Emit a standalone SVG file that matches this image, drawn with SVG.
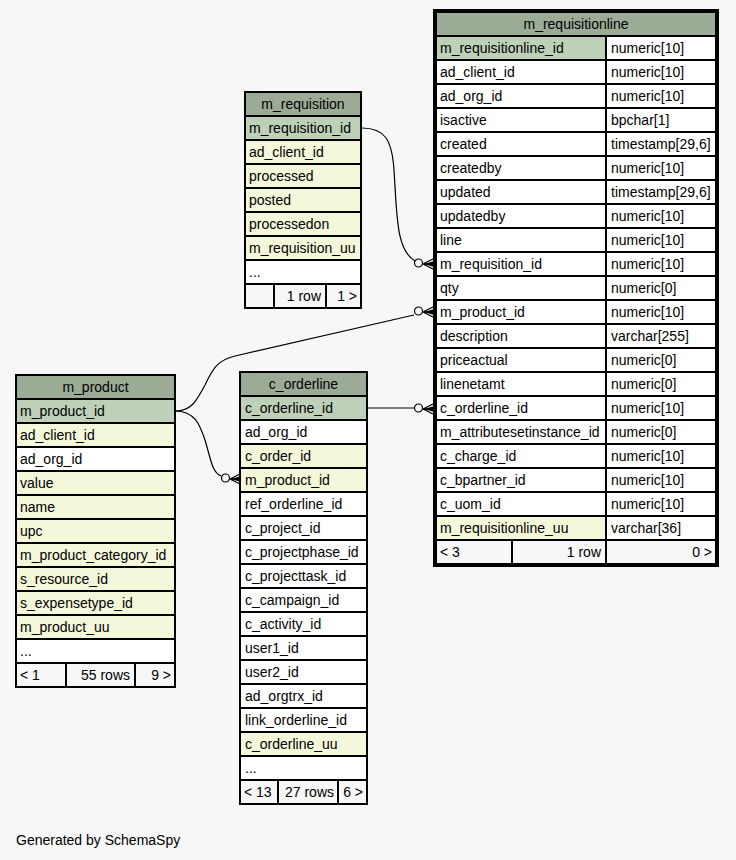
<svg xmlns="http://www.w3.org/2000/svg" xmlns:xlink="http://www.w3.org/1999/xlink" width="736" height="860" viewBox="0 0 736 860">
<style>
text{font-family:"Liberation Sans",Arial,sans-serif;font-size:14px;fill:#000}
.c{text-anchor:middle}
.r{text-anchor:end}
g rect{stroke:#000;stroke-width:1}
.hd{fill:#9bab96}
.pk{fill:#bed1b8}
.ix{fill:#f4f7da}
.pl{fill:#ffffff}
.ft{fill:#f7f7f7}
.ob{fill:none}
.edge path{fill:none;stroke:#000;stroke-width:1.2}
</style>
<defs>
<g id="crowodot">
<circle cx="-14.5" cy="-1" r="4" fill="none" stroke="#000" stroke-width="1.2"/>
<path d="M-10,0 L0,-5 M-10,0 L0,0 M-10,0 L0,5 M-7,0 L0,-2 L0,2 Z" fill="#000" stroke="#000" stroke-width="1.3"/>
</g>
</defs>
<rect x="0" y="0" width="736" height="860" style="fill:#f7f7f7;stroke:none"/>

<g class="edge" id="connectors">
<path d="M362,128 C385,128 392,140 394,170 C397,215 396,250 415,261"/>
<use xlink:href="#crowodot" x="433" y="264"/>
<path d="M175,411 C192,411 197,400 205,385 C213,368 218,360 235,356 L414,315"/>
<use xlink:href="#crowodot" x="433" y="312"/>
<path d="M175,411 C195,411 200,425 205,440 C211,460 212,472 221,476"/>
<use xlink:href="#crowodot" x="240" y="479"/>
<path d="M367,408 L414,408"/>
<use xlink:href="#crowodot" x="433" y="409"/>
</g>

<g id="m_requisitionline">
<rect class="hd" x="436.5" y="12.5" width="279" height="23"/>
<text class="c" x="576" y="29">m_requisitionline</text>
<rect class="pk" x="436.5" y="36.5" width="169" height="23"/><rect class="pl" x="606.5" y="36.5" width="109" height="23"/>
<text x="440" y="53">m_requisitionline_id</text><text x="611" y="53">numeric[10]</text>
<rect class="pl" x="436.5" y="60.5" width="169" height="23"/><rect class="pl" x="606.5" y="60.5" width="109" height="23"/>
<text x="440" y="77">ad_client_id</text><text x="611" y="77">numeric[10]</text>
<rect class="pl" x="436.5" y="84.5" width="169" height="23"/><rect class="pl" x="606.5" y="84.5" width="109" height="23"/>
<text x="440" y="101">ad_org_id</text><text x="611" y="101">numeric[10]</text>
<rect class="pl" x="436.5" y="108.5" width="169" height="23"/><rect class="pl" x="606.5" y="108.5" width="109" height="23"/>
<text x="440" y="125">isactive</text><text x="611" y="125">bpchar[1]</text>
<rect class="pl" x="436.5" y="132.5" width="169" height="23"/><rect class="pl" x="606.5" y="132.5" width="109" height="23"/>
<text x="440" y="149">created</text><text x="611" y="149">timestamp[29,6]</text>
<rect class="pl" x="436.5" y="156.5" width="169" height="23"/><rect class="pl" x="606.5" y="156.5" width="109" height="23"/>
<text x="440" y="173">createdby</text><text x="611" y="173">numeric[10]</text>
<rect class="pl" x="436.5" y="180.5" width="169" height="23"/><rect class="pl" x="606.5" y="180.5" width="109" height="23"/>
<text x="440" y="197">updated</text><text x="611" y="197">timestamp[29,6]</text>
<rect class="pl" x="436.5" y="204.5" width="169" height="23"/><rect class="pl" x="606.5" y="204.5" width="109" height="23"/>
<text x="440" y="221">updatedby</text><text x="611" y="221">numeric[10]</text>
<rect class="pl" x="436.5" y="228.5" width="169" height="23"/><rect class="pl" x="606.5" y="228.5" width="109" height="23"/>
<text x="440" y="245">line</text><text x="611" y="245">numeric[10]</text>
<rect class="pl" x="436.5" y="252.5" width="169" height="23"/><rect class="pl" x="606.5" y="252.5" width="109" height="23"/>
<text x="440" y="269">m_requisition_id</text><text x="611" y="269">numeric[10]</text>
<rect class="pl" x="436.5" y="276.5" width="169" height="23"/><rect class="pl" x="606.5" y="276.5" width="109" height="23"/>
<text x="440" y="293">qty</text><text x="611" y="293">numeric[0]</text>
<rect class="pl" x="436.5" y="300.5" width="169" height="23"/><rect class="pl" x="606.5" y="300.5" width="109" height="23"/>
<text x="440" y="317">m_product_id</text><text x="611" y="317">numeric[10]</text>
<rect class="pl" x="436.5" y="324.5" width="169" height="23"/><rect class="pl" x="606.5" y="324.5" width="109" height="23"/>
<text x="440" y="341">description</text><text x="611" y="341">varchar[255]</text>
<rect class="pl" x="436.5" y="348.5" width="169" height="23"/><rect class="pl" x="606.5" y="348.5" width="109" height="23"/>
<text x="440" y="365">priceactual</text><text x="611" y="365">numeric[0]</text>
<rect class="pl" x="436.5" y="372.5" width="169" height="23"/><rect class="pl" x="606.5" y="372.5" width="109" height="23"/>
<text x="440" y="389">linenetamt</text><text x="611" y="389">numeric[0]</text>
<rect class="pl" x="436.5" y="396.5" width="169" height="23"/><rect class="pl" x="606.5" y="396.5" width="109" height="23"/>
<text x="440" y="413">c_orderline_id</text><text x="611" y="413">numeric[10]</text>
<rect class="pl" x="436.5" y="420.5" width="169" height="23"/><rect class="pl" x="606.5" y="420.5" width="109" height="23"/>
<text x="440" y="437">m_attributesetinstance_id</text><text x="611" y="437">numeric[0]</text>
<rect class="pl" x="436.5" y="444.5" width="169" height="23"/><rect class="pl" x="606.5" y="444.5" width="109" height="23"/>
<text x="440" y="461">c_charge_id</text><text x="611" y="461">numeric[10]</text>
<rect class="pl" x="436.5" y="468.5" width="169" height="23"/><rect class="pl" x="606.5" y="468.5" width="109" height="23"/>
<text x="440" y="485">c_bpartner_id</text><text x="611" y="485">numeric[10]</text>
<rect class="pl" x="436.5" y="492.5" width="169" height="23"/><rect class="pl" x="606.5" y="492.5" width="109" height="23"/>
<text x="440" y="509">c_uom_id</text><text x="611" y="509">numeric[10]</text>
<rect class="ix" x="436.5" y="516.5" width="169" height="23"/><rect class="pl" x="606.5" y="516.5" width="109" height="23"/>
<text x="440" y="533">m_requisitionline_uu</text><text x="611" y="533">varchar[36]</text>
<rect class="ft" x="436.5" y="540.5" width="75" height="23"/><rect class="ft" x="512.5" y="540.5" width="93" height="23"/><rect class="ft" x="606.5" y="540.5" width="109" height="23"/>
<text x="440" y="557">&lt; 3</text><text class="r" x="601" y="557">1 row</text><text class="r" x="712" y="557">0 &gt;</text>
<rect class="ob" x="434.5" y="10.5" width="283" height="555" style="stroke-width:3"/>
</g>

<g id="m_requisition">
<rect class="hd" x="245.5" y="92.5" width="115" height="23"/>
<text class="c" x="303" y="109">m_requisition</text>
<rect class="pk" x="245.5" y="116.5" width="115" height="23"/><text x="249" y="133">m_requisition_id</text>
<rect class="ix" x="245.5" y="140.5" width="115" height="23"/><text x="249" y="157">ad_client_id</text>
<rect class="ix" x="245.5" y="164.5" width="115" height="23"/><text x="249" y="181">processed</text>
<rect class="ix" x="245.5" y="188.5" width="115" height="23"/><text x="249" y="205">posted</text>
<rect class="ix" x="245.5" y="212.5" width="115" height="23"/><text x="249" y="229">processedon</text>
<rect class="ix" x="245.5" y="236.5" width="115" height="23"/><text x="249" y="253">m_requisition_uu</text>
<rect class="pl" x="245.5" y="260.5" width="115" height="23"/><text x="249" y="277">...</text>
<rect class="ft" x="245.5" y="284.5" width="28" height="23"/><rect class="ft" x="274.5" y="284.5" width="51" height="23"/><rect class="ft" x="326.5" y="284.5" width="34" height="23"/>
<text class="r" x="321" y="301">1 row</text><text class="r" x="357" y="301">1 &gt;</text>
<rect class="ob" x="244.5" y="91.5" width="117" height="217"/>
</g>

<g id="m_product">
<rect class="hd" x="16.5" y="375.5" width="158" height="23"/>
<text class="c" x="95.5" y="392">m_product</text>
<rect class="pk" x="16.5" y="399.5" width="158" height="23"/><text x="20" y="416">m_product_id</text>
<rect class="ix" x="16.5" y="423.5" width="158" height="23"/><text x="20" y="440">ad_client_id</text>
<rect class="pl" x="16.5" y="447.5" width="158" height="23"/><text x="20" y="464">ad_org_id</text>
<rect class="ix" x="16.5" y="471.5" width="158" height="23"/><text x="20" y="488">value</text>
<rect class="ix" x="16.5" y="495.5" width="158" height="23"/><text x="20" y="512">name</text>
<rect class="ix" x="16.5" y="519.5" width="158" height="23"/><text x="20" y="536">upc</text>
<rect class="ix" x="16.5" y="543.5" width="158" height="23"/><text x="20" y="560">m_product_category_id</text>
<rect class="ix" x="16.5" y="567.5" width="158" height="23"/><text x="20" y="584">s_resource_id</text>
<rect class="ix" x="16.5" y="591.5" width="158" height="23"/><text x="20" y="608">s_expensetype_id</text>
<rect class="ix" x="16.5" y="615.5" width="158" height="23"/><text x="20" y="632">m_product_uu</text>
<rect class="pl" x="16.5" y="639.5" width="158" height="23"/><text x="20" y="656">...</text>
<rect class="ft" x="16.5" y="663.5" width="49" height="23"/><rect class="ft" x="66.5" y="663.5" width="68" height="23"/><rect class="ft" x="135.5" y="663.5" width="39" height="23"/>
<text x="20" y="680">&lt; 1</text><text class="r" x="130" y="680">55 rows</text><text class="r" x="171" y="680">9 &gt;</text>
<rect class="ob" x="15.5" y="374.5" width="160" height="313"/>
</g>

<g id="c_orderline">
<rect class="hd" x="240.5" y="372.5" width="126" height="23"/>
<text class="c" x="303.5" y="389">c_orderline</text>
<rect class="pk" x="240.5" y="396.5" width="126" height="23"/><text x="245" y="413">c_orderline_id</text>
<rect class="pl" x="240.5" y="420.5" width="126" height="23"/><text x="245" y="437">ad_org_id</text>
<rect class="ix" x="240.5" y="444.5" width="126" height="23"/><text x="245" y="461">c_order_id</text>
<rect class="ix" x="240.5" y="468.5" width="126" height="23"/><text x="245" y="485">m_product_id</text>
<rect class="pl" x="240.5" y="492.5" width="126" height="23"/><text x="245" y="509">ref_orderline_id</text>
<rect class="pl" x="240.5" y="516.5" width="126" height="23"/><text x="245" y="533">c_project_id</text>
<rect class="pl" x="240.5" y="540.5" width="126" height="23"/><text x="245" y="557">c_projectphase_id</text>
<rect class="pl" x="240.5" y="564.5" width="126" height="23"/><text x="245" y="581">c_projecttask_id</text>
<rect class="pl" x="240.5" y="588.5" width="126" height="23"/><text x="245" y="605">c_campaign_id</text>
<rect class="pl" x="240.5" y="612.5" width="126" height="23"/><text x="245" y="629">c_activity_id</text>
<rect class="pl" x="240.5" y="636.5" width="126" height="23"/><text x="245" y="653">user1_id</text>
<rect class="pl" x="240.5" y="660.5" width="126" height="23"/><text x="245" y="677">user2_id</text>
<rect class="pl" x="240.5" y="684.5" width="126" height="23"/><text x="245" y="701">ad_orgtrx_id</text>
<rect class="pl" x="240.5" y="708.5" width="126" height="23"/><text x="245" y="725">link_orderline_id</text>
<rect class="ix" x="240.5" y="732.5" width="126" height="23"/><text x="245" y="749">c_orderline_uu</text>
<rect class="pl" x="240.5" y="756.5" width="126" height="23"/><text x="245" y="773">...</text>
<rect class="ft" x="240.5" y="780.5" width="37" height="23"/><rect class="ft" x="278.5" y="780.5" width="59" height="23"/><rect class="ft" x="338.5" y="780.5" width="28" height="23"/>
<text x="244" y="797">&lt; 13</text><text class="r" x="334" y="797">27 rows</text><text class="r" x="363" y="797">6 &gt;</text>
<rect class="ob" x="239.5" y="371.5" width="128" height="433"/>
</g>

<text x="16" y="845">Generated by SchemaSpy</text>
</svg>
